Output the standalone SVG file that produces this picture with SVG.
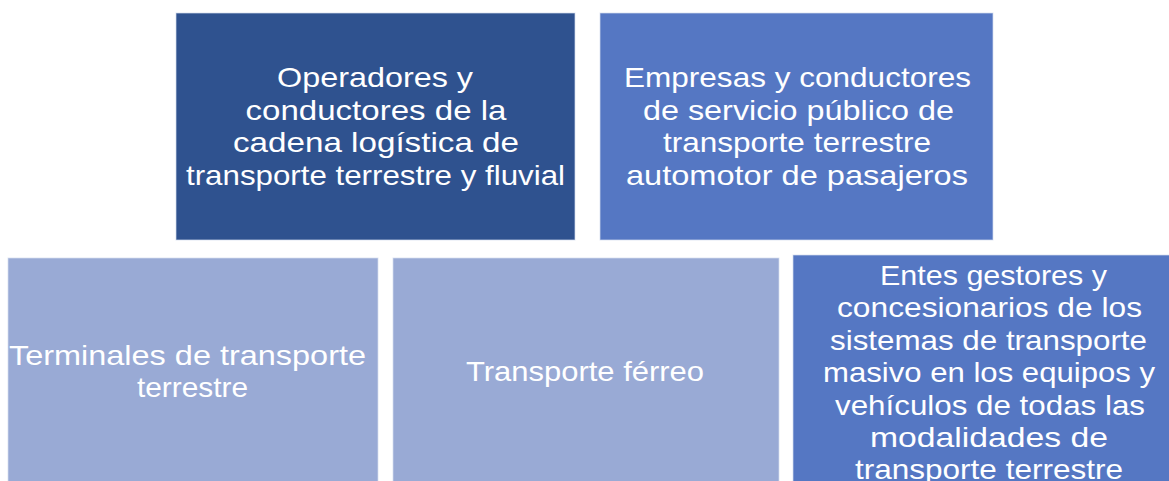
<svg xmlns="http://www.w3.org/2000/svg" width="1169" height="481" viewBox="0 0 1169 481">
<style>
.box{stroke:#d6deef;stroke-width:1;stroke-opacity:0.7}
.dark{fill:#2f528f}
.mid{fill:#5577c3}
.light{fill:#99aad5}
text{font-family:"Liberation Sans","DejaVu Sans",sans-serif;font-size:28px;fill:#ffffff;text-anchor:middle}
</style>
<rect width="1169" height="481" fill="#ffffff"/>
<g id="connectors"></g>
<g id="node1">
<rect class="box dark" x="176" y="13" width="399" height="227"/>
<text x="375" y="87" textLength="196" lengthAdjust="spacingAndGlyphs">Operadores y</text>
<text x="376" y="120" textLength="261" lengthAdjust="spacingAndGlyphs">conductores de la</text>
<text x="376" y="152" textLength="286" lengthAdjust="spacingAndGlyphs">cadena logística de</text>
<text x="375.5" y="185" textLength="379" lengthAdjust="spacingAndGlyphs">transporte terrestre y fluvial</text>
</g>
<g id="node2">
<rect class="box mid" x="600" y="13" width="393" height="227"/>
<text x="797.5" y="87" textLength="347" lengthAdjust="spacingAndGlyphs">Empresas y conductores</text>
<text x="798.5" y="120" textLength="311" lengthAdjust="spacingAndGlyphs">de servicio público de</text>
<text x="797" y="152" textLength="268" lengthAdjust="spacingAndGlyphs">transporte terrestre</text>
<text x="797" y="185" textLength="342" lengthAdjust="spacingAndGlyphs">automotor de pasajeros</text>
</g>
<g id="node3">
<rect class="box light" x="8" y="258" width="370" height="230"/>
<text x="187.5" y="365" textLength="357" lengthAdjust="spacingAndGlyphs">Terminales de transporte</text>
<text x="192.5" y="397" textLength="111" lengthAdjust="spacingAndGlyphs">terrestre</text>
</g>
<g id="node4">
<rect class="box light" x="393" y="258" width="386" height="230"/>
<text x="585" y="381" textLength="238" lengthAdjust="spacingAndGlyphs">Transporte férreo</text>
</g>
<g id="node5">
<rect class="box mid" x="793" y="255" width="394" height="233"/>
<text x="993.5" y="285" textLength="227" lengthAdjust="spacingAndGlyphs">Entes gestores y</text>
<text x="989.5" y="317" textLength="305" lengthAdjust="spacingAndGlyphs">concesionarios de los</text>
<text x="988.5" y="350" textLength="317" lengthAdjust="spacingAndGlyphs">sistemas de transporte</text>
<text x="989" y="382" textLength="332" lengthAdjust="spacingAndGlyphs">masivo en los equipos y</text>
<text x="990" y="415" textLength="310" lengthAdjust="spacingAndGlyphs">vehículos de todas las</text>
<text x="989" y="447" textLength="238" lengthAdjust="spacingAndGlyphs">modalidades de</text>
<text x="989" y="479" textLength="268" lengthAdjust="spacingAndGlyphs">transporte terrestre</text>
</g>
</svg>
